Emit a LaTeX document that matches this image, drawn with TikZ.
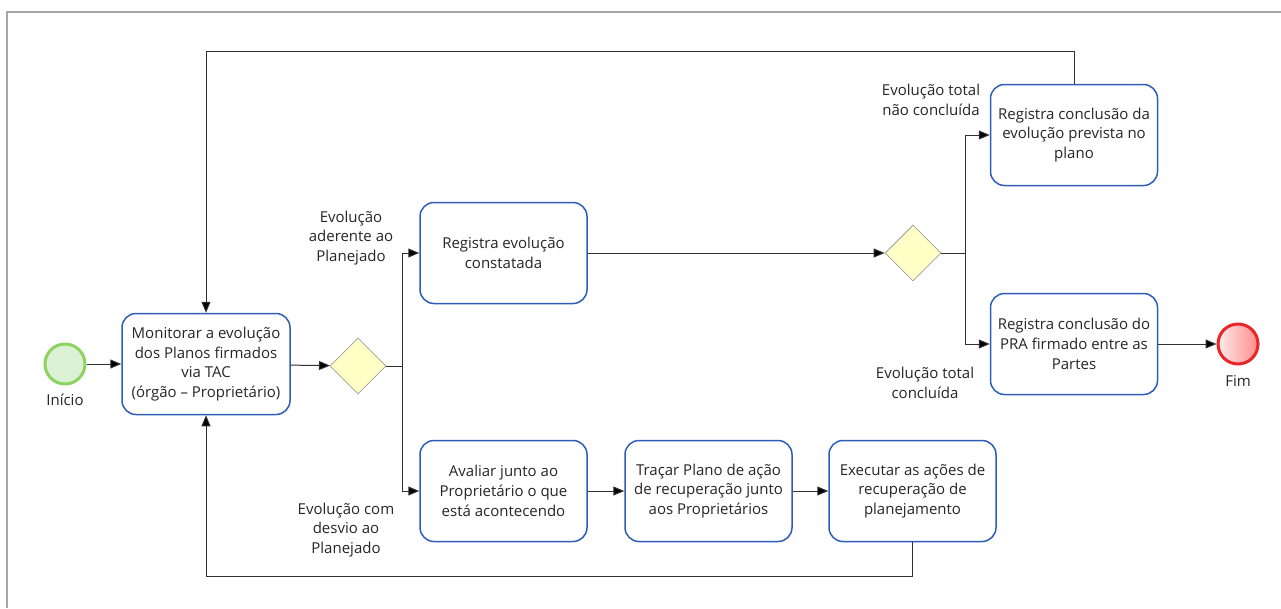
\documentclass[tikz,border=0pt]{standalone}
\usepackage{fontspec}
\setmainfont{Open Sans}
\usetikzlibrary{shapes.geometric,arrows.meta}

\definecolor{taskblue}{HTML}{2E5DB8}
\definecolor{gatefill}{HTML}{FFFFC6}
\definecolor{gateline}{HTML}{A0A0A0}
\definecolor{startline}{HTML}{8DD35F}
\definecolor{startfill}{HTML}{DDF2D4}
\definecolor{endline}{HTML}{E8262A}
\definecolor{flowline}{HTML}{303030}
\definecolor{txt}{HTML}{262626}

\begin{document}
\begin{tikzpicture}[x=1pt,y=-1pt]
  % overall canvas
  \useasboundingbox (0,0) rectangle (1281,608);

  % styles
  \tikzset{
    task/.style={draw=taskblue,line width=1.5pt,fill=white,rounded corners=14pt,
      minimum width=167pt,minimum height=101pt,inner sep=2pt,align=center,
      text=txt,font=\fontsize{15}{19.8}\selectfont},
    gate/.style={diamond,draw=gateline,line width=0.8pt,fill=gatefill,
      minimum width=56pt,minimum height=56pt,inner sep=0pt},
    evstart/.style={circle,draw=startline,line width=3pt,fill=startfill,
      minimum size=40pt,inner sep=0pt},
    evend/.style={circle,draw=endline,line width=3pt,left color=red!8,right color=red!45,
      minimum size=40pt,inner sep=0pt},
    lbl/.style={align=center,text=txt,inner sep=0pt,font=\fontsize{15}{19.8}\selectfont},
    flow/.style={draw=flowline,line width=1pt,-{Triangle[length=11pt,width=9pt,fill=black]}},
    link/.style={draw=flowline,line width=1pt},
    frame/.style={draw=gray!70,line width=2pt},
  }

  % white background and frame
  \fill[white] (0,0) rectangle (1281,608);
  \draw[frame] (7,608) -- (7,12) -- (1281,12);

  % events
  \node[evstart] (ini) at (65,364) {};
  \node[lbl] (iniLbl) at (65,400) {Início};
  \node[evend] (fim) at (1238,344) {};
  \node[lbl] (fimLbl) at (1238,381) {Fim};

  % tasks
  \node[task,minimum width=168pt] (mon) at (206,364)
    {Monitorar a evolução\\dos Planos firmados\\via TAC\\(órgão – Proprietário)};
  \node[task] (reg) at (503.5,253) {Registra evolução\\constatada};
  \node[task] (regNc) at (1074,135) {Registra conclusão da\\evolução prevista no\\plano};
  \node[task] (regC) at (1074,344) {Registra conclusão do\\PRA firmado entre as\\Partes};
  \node[task] (aval) at (503.5,491) {Avaliar junto ao\\Proprietário o que\\está acontecendo};
  \node[task] (trac) at (708.5,491) {Traçar Plano de ação\\de recuperação junto\\aos Proprietários};
  \node[task] (exec) at (912.5,491) {Executar as ações de\\recuperação de\\planejamento};

  % gateways
  \node[gate] (g1) at (358,366) {};
  \node[gate] (g2) at (913,253) {};

  % branch points
  \coordinate (b1) at (402,366);
  \coordinate (b2) at (965,253);

  % labels of the branches
  \node[lbl] (lAder) at (351,238) {Evolução\\aderente ao\\Planejado};
  \node[lbl] (lDesv) at (346,530) {Evolução com\\desvio ao\\Planejado};
  \node[lbl] (lNc) at (931,100) {Evolução total\\não concluída};
  \node[lbl] (lC) at (925,383) {Evolução total\\concluída};

  % sequence flows
  \draw[flow] (ini) -- (mon);
  \draw[flow] (mon) -- (g1);
  \draw[link] (g1.east) -- (b1);
  \draw[flow] (b1) |- (reg.west);
  \draw[flow] (b1) |- (aval.west);
  \draw[flow] (reg) -- (g2);
  \draw[link] (g2.east) -- (b2);
  \draw[flow] (b2) |- (regNc.west);
  \draw[flow] (b2) |- (regC.west);
  \draw[flow] (regC) -- (fim);
  \draw[flow] (aval) -- (trac);
  \draw[flow] (trac) -- (exec);

  % loops back to the monitoring task
  \draw[flow] (regNc.north) -- ++(0,-32) -| (mon.north);
  \draw[flow] (exec.south) -- ++(0,34) -| (mon.south);
\end{tikzpicture}
\end{document}
